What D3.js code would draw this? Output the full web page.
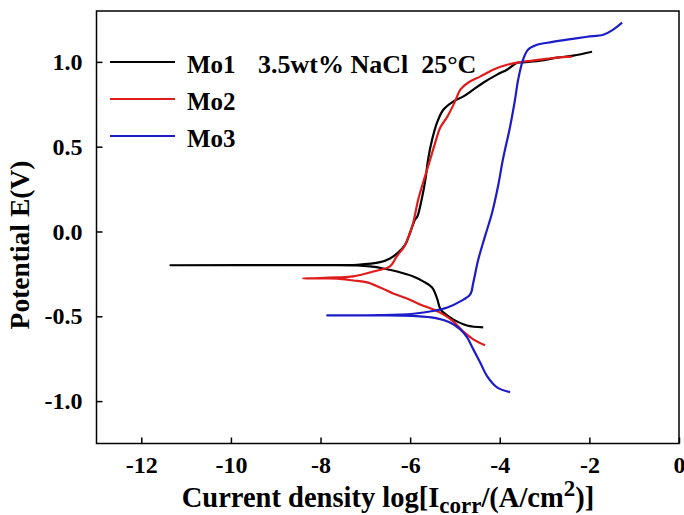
<!DOCTYPE html>
<meta charset="utf-8">
<title>Tafel curves Mo1 Mo2 Mo3</title>
<style>
    body { margin: 0; background: #fff; }
    text {
        font-family: "Liberation Serif", "Times New Roman", serif;
        font-weight: bold;
        fill: #000;
    }
    .curve {
        fill: none;
        stroke-width: 2.2px;
        stroke-linejoin: round;
    }
</style>

<svg width="684" height="515"></svg>

<script src="https://d3js.org/d3.v7.min.js"></script>
<script>

    // scan path of each sample: cathodic end -> corrosion potential -> anodic end
    var mo1LogI = [-4.37, -4.73, -5.04, -5.26, -5.33, -5.40, -5.51, -5.71, -5.93, -6.29, -6.60, -6.89, -7.18, -8.45, -11.35,
        -8.45, -7.18, -6.67, -6.45, -6.27, -6.11, -6.00, -5.89, -5.84, -5.73, -5.66, -5.60, -5.51, -5.40, -5.26,
        -5.04, -4.82, -4.59, -4.37, -4.06, -3.84, -3.61, -3.48, -3.10, -2.72, -2.36, -1.94];
    var mo1E = [-0.565, -0.554, -0.518, -0.477, -0.455, -0.395, -0.330, -0.294, -0.265, -0.236, -0.218, -0.206, -0.200, -0.199, -0.199,
        -0.198, -0.196, -0.181, -0.159, -0.124, -0.077, -0.006, 0.071, 0.088, 0.206, 0.306, 0.424, 0.542, 0.642, 0.718,
        0.766, 0.795, 0.836, 0.877, 0.925, 0.954, 0.995, 0.997, 1.007, 1.025, 1.037, 1.060];

    var mo2LogI = [-4.33, -4.59, -4.82, -5.04, -5.26, -5.49, -5.78, -6.07, -6.38, -6.67, -6.96, -7.27, -7.63, -8.01, -8.39,
        -8.01, -7.63, -7.27, -6.82, -6.45, -6.30, -6.13, -6.00, -5.93, -5.82, -5.71, -5.60, -5.44, -5.33, -5.17,
        -5.00, -4.88, -4.71, -4.44, -4.15, -3.84, -3.48, -3.10, -2.72, -2.39];
    var mo2E = [-0.671, -0.636, -0.589, -0.530, -0.489, -0.459, -0.430, -0.395, -0.365, -0.330, -0.300, -0.289, -0.278, -0.277, -0.277,
        -0.275, -0.271, -0.265, -0.236, -0.206, -0.147, -0.088, -0.006, 0.053, 0.188, 0.289, 0.383, 0.524, 0.612, 0.677,
        0.766, 0.836, 0.877, 0.913, 0.954, 0.983, 1.001, 1.013, 1.025, 1.031];

    var mo3LogI = [-3.77, -4.06, -4.28, -4.44, -4.59, -4.73, -4.88, -5.11, -5.40, -5.78, -6.16, -6.67, -7.40, -7.85,
        -7.40, -6.67, -5.93, -5.49, -5.17, -4.88, -4.66, -4.59, -4.48, -4.33, -4.17, -4.04, -3.93, -3.77, -3.66,
        -3.59, -3.48, -3.37, -3.17, -2.94, -2.50, -2.05, -1.69, -1.47, -1.27];
    var mo3E = [-0.948, -0.919, -0.854, -0.771, -0.695, -0.624, -0.577, -0.536, -0.512, -0.501, -0.496, -0.495, -0.495, -0.495,
        -0.494, -0.493, -0.485, -0.469, -0.448, -0.412, -0.371, -0.300, -0.165, -0.029, 0.112, 0.265, 0.424, 0.618, 0.777,
        0.895, 1.013, 1.072, 1.101, 1.113, 1.131, 1.148, 1.160, 1.190, 1.231];

    var seriesNames = ["Mo1", "Mo2", "Mo3"];
    var seriesColors = ["#000000", "#e01b1b", "#1c1cc8"];
    var xTicks = [-12, -10, -8, -6, -4, -2, 0];
    var yTicks = [-1.0, -0.5, 0.0, 0.5, 1.0];

    var series = [
        { name: seriesNames[0], color: seriesColors[0], x: mo1LogI, y: mo1E },
        { name: seriesNames[1], color: seriesColors[1], x: mo2LogI, y: mo2E },
        { name: seriesNames[2], color: seriesColors[2], x: mo3LogI, y: mo3E }
    ];

    var svg = d3.select("svg");
    var plotLeft = 96.5, plotRight = 679, plotTop = 11, plotBottom = 443.5;

    var x = d3.scaleLinear().domain([-13, 0]).range([plotLeft, plotRight]);
    var y = d3.scaleLinear().domain([-1.25, 1.3]).range([plotBottom, plotTop]);

    // plain hyphen for negatives, like the original figure
    function hyphen(fmt) {
        return function (d) { return fmt(d).replace("\u2212", "-"); };
    }

    function styleAxis(g) {
        g.attr("font-family", null).attr("font-size", null);
        g.select(".domain").remove();
        g.selectAll("line").attr("stroke-width", 1.5);
        g.selectAll("text")
            .style("font-family", "'Liberation Serif', 'Times New Roman', serif")
            .style("font-weight", "bold")
            .style("font-size", "24px");
    }

    // axes, ticks pointing inward
    svg.append("g")
        .attr("transform", "translate(0," + plotBottom + ")")
        .call(d3.axisBottom(x).tickValues(xTicks).tickSizeInner(-6).tickSizeOuter(0).tickPadding(12)
            .tickFormat(hyphen(d3.format("d"))))
        .call(styleAxis);

    svg.append("g")
        .attr("transform", "translate(" + plotLeft + ",0)")
        .call(d3.axisLeft(y).tickValues(yTicks).tickSizeInner(-6).tickSizeOuter(0).tickPadding(14)
            .tickFormat(hyphen(d3.format(".1f"))))
        .call(styleAxis);

    svg.append("rect")
        .attr("x", plotLeft).attr("y", plotTop)
        .attr("width", plotRight - plotLeft).attr("height", plotBottom - plotTop)
        .attr("fill", "none").attr("stroke", "#000").attr("stroke-width", 1.5);

    var line = d3.line()
        .x(function (d) { return x(d[0]); })
        .y(function (d) { return y(d[1]); })
        .curve(d3.curveCatmullRom.alpha(0.5));

    svg.append("g")
        .selectAll("path")
        .data(series)
        .enter().append("path")
        .attr("class", "curve")
        .attr("stroke", function (d) { return d.color; })
        .attr("d", function (d) { return line(d3.zip(d.x, d.y)); });

    // legend
    var legend = svg.append("g").selectAll("g")
        .data(series)
        .enter().append("g")
        .attr("transform", function (d, i) { return "translate(110," + (62 + i * 37) + ")"; });

    legend.append("line")
        .attr("x1", 0).attr("x2", 65)
        .attr("stroke", function (d) { return d.color; })
        .attr("stroke-width", 2.2);

    legend.append("text")
        .attr("x", 77).attr("y", 11)
        .style("font-size", "25px")
        .text(function (d) { return d.name; });

    svg.append("text")
        .attr("x", 258).attr("y", 73)
        .style("font-size", "26px")
        .attr("xml:space", "preserve")
        .text("3.5wt% NaCl  25°C");

    // axis titles
    var xt = svg.append("text")
        .attr("x", 388).attr("y", 507)
        .attr("text-anchor", "middle")
        .style("font-size", "28.5px");
    xt.append("tspan").text("Current density log[I");
    xt.append("tspan").attr("dy", 6).style("font-size", "23px").text("corr");
    xt.append("tspan").attr("dy", -6).text("/(A/cm");
    xt.append("tspan").attr("dy", -11).style("font-size", "23px").text("2");
    xt.append("tspan").attr("dy", 11).text(")]");

    svg.append("text")
        .attr("transform", "translate(29,245) rotate(-90)")
        .attr("text-anchor", "middle")
        .style("font-size", "27.5px")
        .text("Potential E(V)");

</script>
